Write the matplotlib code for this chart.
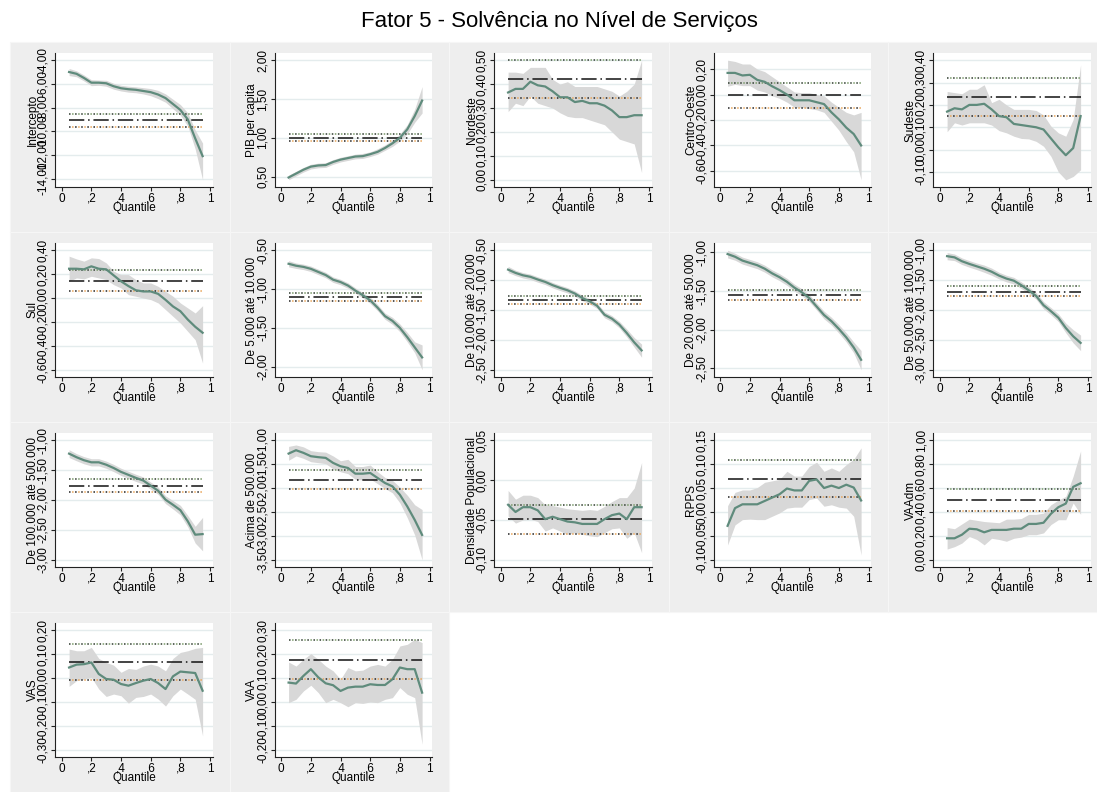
import matplotlib
matplotlib.use("Agg")
import matplotlib.pyplot as plt
from matplotlib.patches import Rectangle
import numpy as np

plt.rcParams['font.family'] = ['Liberation Sans', 'DejaVu Sans']

quantis = [0.05, 0.10, 0.15, 0.20, 0.25, 0.30, 0.35, 0.40, 0.45, 0.50,
           0.55, 0.60, 0.65, 0.70, 0.75, 0.80, 0.85, 0.90, 0.95]

# coeficientes por quantil (est), limites do IC (lo/hi), MQO e seu IC
intercepto_est = [-5.00, -5.15, -5.50, -5.90, -5.90, -5.95, -6.20, -6.37, -6.45, -6.50,
                  -6.60, -6.70, -6.90, -7.20, -7.70, -8.20, -9.00, -10.60, -12.10]
intercepto_hi = [-4.70, -4.90, -5.25, -5.65, -5.68, -5.70, -5.95, -6.12, -6.20, -6.25,
                 -6.32, -6.40, -6.55, -6.85, -7.30, -7.75, -8.45, -9.90, -11.00]
intercepto_lo = [-5.30, -5.40, -5.75, -6.15, -6.12, -6.20, -6.45, -6.60, -6.70, -6.75,
                 -6.85, -7.00, -7.25, -7.55, -8.10, -8.65, -9.55, -11.50, -14.10]
intercepto_ols = [-9.08, -9.65, -8.52]
intercepto_ticks = [-14, -12, -10, -8, -6, -4]

pib_est = [0.49, 0.54, 0.59, 0.63, 0.645, 0.65, 0.69, 0.72, 0.74, 0.76,
           0.765, 0.79, 0.82, 0.87, 0.93, 1.00, 1.11, 1.28, 1.48]
pib_hi = [0.52, 0.57, 0.62, 0.66, 0.675, 0.68, 0.72, 0.75, 0.77, 0.79,
          0.80, 0.82, 0.86, 0.91, 0.97, 1.05, 1.17, 1.37, 1.66]
pib_lo = [0.46, 0.51, 0.56, 0.60, 0.615, 0.62, 0.66, 0.69, 0.71, 0.73,
          0.735, 0.76, 0.79, 0.84, 0.89, 0.96, 1.05, 1.20, 1.32]
pib_ols = [1.00, 0.955, 1.05]
pib_ticks = [0.5, 1.0, 1.5, 2.0]

nordeste_est = [0.365, 0.38, 0.38, 0.41, 0.395, 0.39, 0.37, 0.345, 0.345, 0.325,
                0.33, 0.32, 0.32, 0.31, 0.29, 0.262, 0.262, 0.27, 0.27]
nordeste_hi = [0.45, 0.45, 0.445, 0.47, 0.47, 0.47, 0.42, 0.40, 0.41, 0.39,
               0.39, 0.39, 0.39, 0.38, 0.37, 0.35, 0.37, 0.40, 0.50]
nordeste_lo = [0.285, 0.32, 0.31, 0.35, 0.32, 0.31, 0.30, 0.28, 0.265, 0.26,
               0.26, 0.25, 0.24, 0.23, 0.20, 0.17, 0.16, 0.15, 0.03]
nordeste_ols = [0.42, 0.34, 0.50]
nordeste_ticks = [0.0, 0.1, 0.2, 0.3, 0.4, 0.5]

co_est = [0.17, 0.17, 0.15, 0.155, 0.115, 0.10, 0.065, 0.035, 0.0, -0.045,
          -0.045, -0.045, -0.06, -0.075, -0.14, -0.195, -0.26, -0.31, -0.40]
co_hi = [0.27, 0.26, 0.24, 0.24, 0.20, 0.18, 0.14, 0.10, 0.06, 0.02,
         0.015, 0.015, 0.0, -0.01, -0.06, -0.10, -0.14, -0.16, -0.14]
co_lo = [0.065, 0.08, 0.07, 0.07, 0.035, 0.02, -0.01, -0.03, -0.06, -0.10,
         -0.10, -0.11, -0.12, -0.14, -0.21, -0.28, -0.37, -0.45, -0.67]
co_ols = [-0.005, -0.105, 0.09]
co_ticks = [-0.6, -0.4, -0.2, 0.0, 0.2]

sudeste_est = [0.17, 0.185, 0.18, 0.20, 0.20, 0.205, 0.18, 0.15, 0.145, 0.115,
               0.11, 0.105, 0.10, 0.09, 0.05, 0.01, -0.025, 0.007, 0.15]
sudeste_hi = [0.26, 0.255, 0.25, 0.27, 0.27, 0.29, 0.21, 0.225, 0.20, 0.18,
              0.18, 0.18, 0.175, 0.155, 0.105, 0.075, 0.06, 0.135, 0.38]
sudeste_lo = [0.08, 0.12, 0.11, 0.12, 0.12, 0.12, 0.11, 0.085, 0.075, 0.06,
              0.05, 0.048, 0.037, 0.015, -0.03, -0.10, -0.135, -0.12, -0.09]
sudeste_ols = [0.235, 0.15, 0.32]
sudeste_ticks = [-0.1, 0.0, 0.1, 0.2, 0.3, 0.4]

sul_est = [0.245, 0.245, 0.24, 0.265, 0.245, 0.24, 0.19, 0.14, 0.10, 0.065,
           0.055, 0.055, 0.035, -0.015, -0.07, -0.11, -0.18, -0.24, -0.29]
sul_hi = [0.35, 0.327, 0.308, 0.336, 0.33, 0.294, 0.224, 0.196, 0.196, 0.154,
          0.126, 0.126, 0.098, 0.056, 0.015, -0.041, -0.083, -0.125, -0.064]
sul_lo = [0.14, 0.168, 0.16, 0.182, 0.168, 0.154, 0.112, 0.084, 0.028, 0.015,
          0.0, -0.013, -0.041, -0.097, -0.153, -0.209, -0.279, -0.349, -0.544]
sul_ols = [0.145, 0.055, 0.235]
sul_ticks = [-0.6, -0.4, -0.2, 0.0, 0.2, 0.4]

p5a10_est = [-0.675, -0.70, -0.715, -0.74, -0.78, -0.82, -0.88, -0.91, -0.955, -1.02,
             -1.08, -1.145, -1.24, -1.35, -1.41, -1.50, -1.62, -1.75, -1.88]
p5a10_hi = [-0.635, -0.665, -0.68, -0.705, -0.745, -0.785, -0.845, -0.875, -0.92, -0.985,
            -1.045, -1.105, -1.20, -1.31, -1.365, -1.45, -1.56, -1.68, -1.72]
p5a10_lo = [-0.715, -0.735, -0.75, -0.775, -0.815, -0.855, -0.915, -0.945, -0.99, -1.055,
            -1.115, -1.185, -1.28, -1.39, -1.455, -1.55, -1.68, -1.82, -2.04]
p5a10_ols = [-1.10, -1.155, -1.055]
p5a10_ticks = [-2.0, -1.5, -1.0, -0.5]

p10a20_est = [-0.825, -0.88, -0.92, -0.945, -0.99, -1.03, -1.085, -1.13, -1.17, -1.225,
              -1.30, -1.355, -1.43, -1.58, -1.645, -1.745, -1.885, -2.04, -2.175]
p10a20_hi = [-0.77, -0.835, -0.875, -0.90, -0.945, -0.985, -1.04, -1.085, -1.125, -1.18,
             -1.255, -1.31, -1.385, -1.53, -1.595, -1.69, -1.82, -1.96, -2.07]
p10a20_lo = [-0.875, -0.925, -0.965, -0.99, -1.035, -1.075, -1.13, -1.175, -1.215, -1.27,
             -1.345, -1.40, -1.475, -1.63, -1.695, -1.80, -1.95, -2.12, -2.29]
p10a20_ols = [-1.34, -1.395, -1.27]
p10a20_ticks = [-2.5, -2.0, -1.5, -1.0, -0.5]

p20a50_est = [-1.02, -1.055, -1.105, -1.135, -1.165, -1.21, -1.27, -1.32, -1.38, -1.455,
              -1.515, -1.59, -1.70, -1.81, -1.89, -1.99, -2.10, -2.23, -2.39]
p20a50_hi = [-0.97, -1.01, -1.06, -1.09, -1.12, -1.165, -1.225, -1.275, -1.335, -1.41,
             -1.47, -1.545, -1.655, -1.76, -1.84, -1.935, -2.04, -2.16, -2.27]
p20a50_lo = [-1.07, -1.10, -1.15, -1.18, -1.21, -1.255, -1.315, -1.365, -1.425, -1.50,
             -1.56, -1.635, -1.745, -1.86, -1.94, -2.045, -2.16, -2.30, -2.52]
p20a50_ols = [-1.545, -1.61, -1.49]
p20a50_ticks = [-2.5, -2.0, -1.5, -1.0]

p50a100_est = [-1.10, -1.12, -1.185, -1.23, -1.27, -1.31, -1.36, -1.425, -1.475, -1.51,
               -1.585, -1.67, -1.765, -1.92, -2.02, -2.13, -2.30, -2.44, -2.55]
p50a100_hi = [-1.04, -1.065, -1.13, -1.175, -1.215, -1.25, -1.30, -1.37, -1.42, -1.455,
              -1.53, -1.615, -1.71, -1.86, -1.96, -2.065, -2.22, -2.33, -2.42]
p50a100_lo = [-1.16, -1.175, -1.24, -1.285, -1.325, -1.37, -1.42, -1.48, -1.53, -1.565,
              -1.64, -1.725, -1.82, -1.98, -2.08, -2.195, -2.38, -2.55, -2.68]
p50a100_ols = [-1.70, -1.77, -1.60]
p50a100_ticks = [-3.0, -2.5, -2.0, -1.5, -1.0]

p100a500_est = [-1.225, -1.285, -1.335, -1.37, -1.37, -1.41, -1.465, -1.53, -1.58, -1.63,
                -1.675, -1.76, -1.845, -1.995, -2.08, -2.17, -2.355, -2.58, -2.57]
p100a500_hi = [-1.16, -1.225, -1.275, -1.31, -1.31, -1.35, -1.405, -1.47, -1.52, -1.57,
               -1.615, -1.70, -1.785, -1.93, -2.01, -2.09, -2.26, -2.44, -2.29]
p100a500_lo = [-1.29, -1.345, -1.395, -1.43, -1.43, -1.47, -1.525, -1.59, -1.64, -1.69,
               -1.735, -1.82, -1.905, -2.06, -2.15, -2.25, -2.45, -2.72, -2.85]
p100a500_ols = [-1.765, -1.87, -1.65]
p100a500_ticks = [-3.0, -2.5, -2.0, -1.5, -1.0]

acima500_est = [-1.28, -1.21, -1.265, -1.335, -1.355, -1.37, -1.475, -1.545, -1.58, -1.70,
                -1.70, -1.685, -1.79, -1.895, -1.965, -2.14, -2.385, -2.665, -2.98]
acima500_hi = [-1.13, -1.10, -1.14, -1.22, -1.24, -1.25, -1.33, -1.43, -1.40, -1.55,
               -1.55, -1.52, -1.66, -1.78, -1.84, -1.98, -2.15, -2.35, -2.45]
acima500_lo = [-1.42, -1.33, -1.38, -1.45, -1.47, -1.49, -1.60, -1.66, -1.70, -1.82,
               -1.83, -1.81, -1.91, -2.01, -2.10, -2.31, -2.62, -2.98, -3.50]
acima500_ols = [-1.83, -2.02, -1.63]
acima500_ticks = [-3.5, -3.0, -2.5, -2.0, -1.5, -1.0]

dens_est = [-0.031, -0.040, -0.034, -0.034, -0.038, -0.049, -0.046, -0.049, -0.052, -0.053,
            -0.055, -0.055, -0.055, -0.049, -0.044, -0.042, -0.049, -0.034, -0.034]
dens_hi = [-0.013, -0.024, -0.019, -0.019, -0.022, -0.031, -0.032, -0.034, -0.036, -0.037,
           -0.038, -0.037, -0.038, -0.033, -0.027, -0.022, -0.022, -0.010, 0.022]
dens_lo = [-0.045, -0.054, -0.050, -0.049, -0.052, -0.064, -0.060, -0.064, -0.068, -0.066,
           -0.068, -0.070, -0.071, -0.066, -0.061, -0.060, -0.073, -0.066, -0.091]
dens_ols = [-0.049, -0.067, -0.031]
dens_ticks = [-0.10, -0.05, 0.0, 0.05]

rpps_est = [-0.029, 0.008, 0.016, 0.016, 0.016, 0.023, 0.030, 0.037, 0.049, 0.045,
            0.045, 0.065, 0.068, 0.050, 0.055, 0.050, 0.057, 0.051, 0.024]
rpps_hi = [0.013, 0.041, 0.046, 0.046, 0.051, 0.062, 0.065, 0.068, 0.085, 0.075,
           0.075, 0.095, 0.104, 0.085, 0.092, 0.085, 0.099, 0.110, 0.134]
rpps_lo = [-0.069, -0.027, -0.016, -0.015, -0.016, -0.016, -0.009, -0.002, 0.008, 0.010,
           0.010, 0.026, 0.029, 0.012, 0.015, 0.010, 0.008, -0.009, -0.090]
rpps_ols = [0.069, 0.031, 0.108]
rpps_ticks = [-0.10, -0.05, 0.0, 0.05, 0.10, 0.15]

vaadm_est = [0.18, 0.18, 0.21, 0.26, 0.255, 0.23, 0.25, 0.25, 0.25, 0.26,
             0.26, 0.30, 0.30, 0.31, 0.385, 0.44, 0.47, 0.61, 0.64]
vaadm_hi = [0.27, 0.26, 0.30, 0.34, 0.33, 0.32, 0.315, 0.31, 0.34, 0.34,
            0.345, 0.38, 0.38, 0.39, 0.46, 0.50, 0.53, 0.70, 0.91]
vaadm_lo = [0.09, 0.11, 0.14, 0.195, 0.17, 0.125, 0.18, 0.17, 0.155, 0.18,
            0.19, 0.21, 0.21, 0.225, 0.295, 0.335, 0.335, 0.475, 0.38]
vaadm_ols = [0.50, 0.405, 0.59]
vaadm_ticks = [0.0, 0.2, 0.4, 0.6, 0.8, 1.0]

vas_est = [0.044, 0.056, 0.058, 0.065, 0.017, -0.004, -0.007, -0.025, -0.032, -0.021,
           -0.011, -0.004, -0.021, -0.046, 0.007, 0.027, 0.024, 0.021, -0.053]
vas_hi = [0.121, 0.114, 0.114, 0.128, 0.082, 0.065, 0.054, 0.024, 0.040, 0.036,
          0.050, 0.058, 0.050, 0.030, 0.082, 0.107, 0.114, 0.124, 0.128]
vas_lo = [-0.035, -0.011, -0.004, 0.003, -0.046, -0.077, -0.067, -0.074, -0.105, -0.081,
          -0.077, -0.067, -0.088, -0.117, -0.074, -0.046, -0.067, -0.089, -0.242]
vas_ols = [0.068, -0.008, 0.142]
vas_ticks = [-0.3, -0.2, -0.1, 0.0, 0.1, 0.2]

vaa_est = [0.081, 0.077, 0.109, 0.137, 0.103, 0.078, 0.070, 0.046, 0.060, 0.064,
           0.064, 0.074, 0.071, 0.071, 0.095, 0.144, 0.137, 0.137, 0.039]
vaa_hi = [0.167, 0.150, 0.178, 0.202, 0.178, 0.150, 0.130, 0.095, 0.144, 0.130,
          0.133, 0.150, 0.157, 0.150, 0.178, 0.234, 0.241, 0.262, 0.248]
vaa_lo = [-0.003, 0.011, 0.046, 0.070, 0.039, -0.003, 0.011, -0.003, -0.020, -0.003,
          -0.006, 0.0, -0.003, 0.011, 0.018, 0.060, 0.032, 0.018, -0.177]
vaa_ols = [0.177, 0.096, 0.26]
vaa_ticks = [-0.2, -0.1, 0.0, 0.1, 0.2, 0.3]

titulos = ["Intercepto", "PIB per capita", "Nordeste", "Centro-Oeste", "Sudeste",
           "Sul", "De 5.000 até 10.000", "De 10.000 até 20.000", "De 20.000 até 50.000",
           "De 50.000 até 100.000", "De 100.000 até 500.000", "Acima de 500.000",
           "Densidade Populacional", "RPPS", "VAAdm", "VAS", "VAA"]

paineis = [
    (intercepto_est, intercepto_lo, intercepto_hi, intercepto_ols, intercepto_ticks),
    (pib_est, pib_lo, pib_hi, pib_ols, pib_ticks),
    (nordeste_est, nordeste_lo, nordeste_hi, nordeste_ols, nordeste_ticks),
    (co_est, co_lo, co_hi, co_ols, co_ticks),
    (sudeste_est, sudeste_lo, sudeste_hi, sudeste_ols, sudeste_ticks),
    (sul_est, sul_lo, sul_hi, sul_ols, sul_ticks),
    (p5a10_est, p5a10_lo, p5a10_hi, p5a10_ols, p5a10_ticks),
    (p10a20_est, p10a20_lo, p10a20_hi, p10a20_ols, p10a20_ticks),
    (p20a50_est, p20a50_lo, p20a50_hi, p20a50_ols, p20a50_ticks),
    (p50a100_est, p50a100_lo, p50a100_hi, p50a100_ols, p50a100_ticks),
    (p100a500_est, p100a500_lo, p100a500_hi, p100a500_ols, p100a500_ticks),
    (acima500_est, acima500_lo, acima500_hi, acima500_ols, acima500_ticks),
    (dens_est, dens_lo, dens_hi, dens_ols, dens_ticks),
    (rpps_est, rpps_lo, rpps_hi, rpps_ols, rpps_ticks),
    (vaadm_est, vaadm_lo, vaadm_hi, vaadm_ols, vaadm_ticks),
    (vas_est, vas_lo, vas_hi, vas_ols, vas_ticks),
    (vaa_est, vaa_lo, vaa_hi, vaa_ols, vaa_ticks),
]

W, H = 1097, 792
fig = plt.figure(figsize=(W / 100, H / 100), dpi=100, facecolor='white')

fig.text(0.51, 1 - 22 / H, "Fator 5 - Solvência no Nível de Serviços",
         ha='center', va='center', fontsize=16)

def fbox(x, y, w, h):
    # caixa em pixels (origem no topo) -> fração da figura
    return [x / W, 1 - (y + h) / H, w / W, h / H]

for i, (est, lo, hi, ols, ticks) in enumerate(paineis):
    r, c = divmod(i, 5)
    cx = 10 + 219.5 * c
    cy = 42 + 190 * r
    fig.add_artist(Rectangle((cx / W, 1 - (cy + 190) / H), 219.5 / W, 190 / H,
                             transform=fig.transFigure, facecolor='#eeeeee',
                             edgecolor='#f6f6f6', lw=0.8, zorder=0))

    ax = fig.add_axes(fbox(cx + 45, cy + 11, 158, 134))
    ax.set_facecolor('white')
    ax.fill_between(quantis, lo, hi, color='#d8d8d8', lw=0, zorder=1)
    ax.plot(quantis, est, color='#5f8b7c', lw=1.6, zorder=3)

    # MQO e seu intervalo de confiança
    ax.hlines(ols[2], 0.05, 0.95, color='#2e3b2e', lw=1.1, linestyles=(0, (1, 3)), zorder=2)
    ax.hlines(ols[2], 0.05, 0.95, color='#7a9a6a', lw=1.1, linestyles=(2, (1, 3)), zorder=2)
    ax.hlines(ols[0], 0.05, 0.95, color='#111111', lw=1.1, linestyles=(0, (10, 2.5, 1, 2.5)), zorder=2)
    ax.hlines(ols[1], 0.05, 0.95, color='#222222', lw=1.1, linestyles=(0, (1, 3)), zorder=2)
    ax.hlines(ols[1], 0.05, 0.95, color='#e8a55a', lw=1.1, linestyles=(2, (1, 3)), zorder=2)

    vals = np.concatenate([lo, hi, ticks])
    ymin, ymax = vals.min(), vals.max()
    pad = 0.06 * (ymax - ymin)
    ax.set_ylim(ymin - pad, ymax + pad)
    ax.set_xlim(-0.045, 1.02)

    ax.set_yticks(ticks)
    ax.set_yticklabels([f"{t:.2f}".replace('.', ',') for t in ticks])
    ax.set_xticks([0, 0.2, 0.4, 0.6, 0.8, 1.0])
    ax.set_xticklabels(["0", ",2", ",4", ",6", ",8", "1"])
    ax.grid(axis='y', color='#e4eced', lw=1.0, zorder=0)
    ax.set_axisbelow(True)

    for s in ['top', 'right']:
        ax.spines[s].set_visible(False)
    for s in ['left', 'bottom']:
        ax.spines[s].set_color('#222222')
        ax.spines[s].set_linewidth(0.8)

    ax.tick_params(axis='both', labelsize=8.5, length=3, width=0.8, color='#222222', pad=1)
    ax.tick_params(axis='y', labelrotation=90)
    for lab in ax.get_yticklabels():
        lab.set_va('center')

    ax.set_xlabel("Quantile", fontsize=8.5, labelpad=-2)
    ax.set_ylabel(titulos[i], fontsize=8.5, labelpad=-1)

fig.savefig("out.png", dpi=100, facecolor='white')
